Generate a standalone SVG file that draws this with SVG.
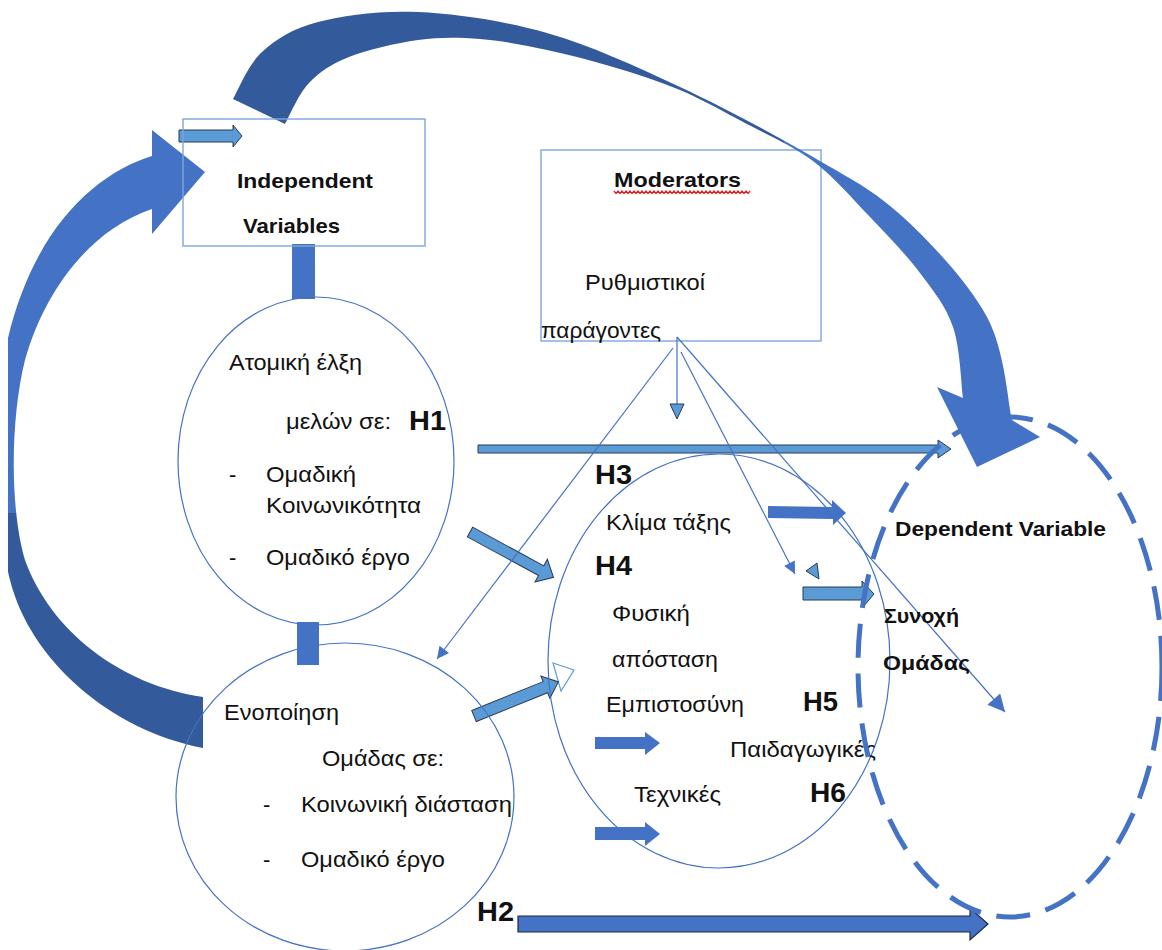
<svg xmlns="http://www.w3.org/2000/svg" width="1162" height="950" viewBox="0 0 1162 950">
<style>
.t{font-family:"Liberation Sans",Arial,sans-serif;font-size:22px;fill:#111}
.b{font-family:"Liberation Sans",Arial,sans-serif;font-size:21px;font-weight:bold;fill:#111}
.h{font-family:"Liberation Sans",Arial,sans-serif;font-size:28px;font-weight:bold;fill:#111}
.ell{fill:none;stroke:#4472c4;stroke-width:1.2}
.box{fill:none;stroke:#7fa6dc;stroke-width:1.4}
.thin{fill:none;stroke:#4472c4;stroke-width:1.2}
.blk{fill:#4472c4}
.lt{fill:#5b9bd5;stroke:#2b3a55;stroke-width:1}
.dk{fill:#4472c4;stroke:#1e2b45;stroke-width:1.2}
</style>
<defs>
<linearGradient id="gTop" gradientUnits="userSpaceOnUse" x1="0" y1="0" x2="1162" y2="0">
<stop offset="0.675" stop-color="#335a9a"/><stop offset="0.675" stop-color="#4472c4"/>
</linearGradient>
<linearGradient id="gLeft" gradientUnits="userSpaceOnUse" x1="0" y1="0" x2="0" y2="950">
<stop offset="0.54" stop-color="#4472c4"/><stop offset="0.54" stop-color="#335a9a"/>
</linearGradient>
<clipPath id="clipL"><rect x="8" y="0" width="1154" height="950"/></clipPath>
<marker id="ah" viewBox="0 0 10 10" refX="10" refY="5" markerWidth="14" markerHeight="12" markerUnits="userSpaceOnUse" orient="auto">
<path d="M0,0 L10,5 L0,10 Z" fill="#4472c4"/>
</marker>
<marker id="ahL" viewBox="0 0 10 10" refX="10" refY="5" markerWidth="21" markerHeight="17" markerUnits="userSpaceOnUse" orient="auto">
<path d="M0,0 L10,5 L0,10 Z" fill="#4472c4"/>
</marker>
</defs>
<rect width="1162" height="950" fill="#ffffff"/>

<g id="node-moderators">
<rect class="box" x="541" y="150" width="280" height="191"/>
<text class="b" x="614" y="187" textLength="127" lengthAdjust="spacingAndGlyphs">Moderators</text>
<path d="M614,191 l2,2.5 l2,-2.5 l2,2.5 l2,-2.5 l2,2.5 l2,-2.5 l2,2.5 l2,-2.5 l2,2.5 l2,-2.5 l2,2.5 l2,-2.5 l2,2.5 l2,-2.5 l2,2.5 l2,-2.5 l2,2.5 l2,-2.5 l2,2.5 l2,-2.5 l2,2.5 l2,-2.5 l2,2.5 l2,-2.5 l2,2.5 l2,-2.5 l2,2.5 l2,-2.5 l2,2.5 l2,-2.5 l2,2.5 l2,-2.5 l2,2.5 l2,-2.5 l2,2.5 l2,-2.5 l2,2.5 l2,-2.5 l2,2.5 l2,-2.5 l2,2.5 l2,-2.5 l2,2.5 l2,-2.5 l2,2.5 l2,-2.5 l2,2.5 l2,-2.5 l2,2.5 l2,-2.5 l2,2.5 l2,-2.5 l2,2.5 l2,-2.5 l2,2.5 l2,-2.5 l2,2.5 l2,-2.5 l2,2.5 l2,-2.5 l2,2.5 l2,-2.5 l2,2.5 l2,-2.5 l2,2.5 l2,-2.5 l2,2.5 l2,-2.5" fill="none" stroke="#e02020" stroke-width="1.3"/>
<text class="t" x="585" y="290" textLength="120" lengthAdjust="spacingAndGlyphs">Ρυθμιστικοί</text>
<text class="t" x="541" y="338" textLength="120" lengthAdjust="spacingAndGlyphs">παράγοντες</text>
</g>

<g id="connectors">
<!-- left big curved arrow -->
<path clip-path="url(#clipL)" fill="url(#gLeft)" d="M205,172 L152,130 L152,156 C90,175 20,240 0,380 C-10,450 -5,520 10,580 C30,660 110,730 203,748 L203,697 C120,685 50,630 25,560 C10,510 10,420 25,360 C45,290 90,230 152,209 L152,234 Z"/>
<!-- top big curved arrow -->
<path fill="url(#gTop)" d="M233,99 C237.8,91.2 247.8,64.8 262,52 C276.2,39.2 292,28.7 318,22 C344,15.3 379.8,10.2 418,12 C456.2,13.8 503.3,20.5 547,33 C590.7,45.5 635.7,66.3 680,87 C724.3,107.7 775.8,135.3 813,157 C850.2,178.7 874,190.3 903,217 C932,243.7 968.8,283.2 987,317 C1005.2,350.8 1007.8,402.8 1012,420 L1040,437 L977,467 L937,387 L963,398 C961.3,386.2 960.2,347.8 953,327 C945.8,306.2 933.8,291.3 920,273 C906.2,254.7 887.8,235.5 870,217 C852.2,198.5 833.8,176.7 813,161 C792.2,145.3 767.2,134.8 745,123 C722.8,111.2 702,99.3 680,90 C658,80.7 635.2,73.7 613,67 C590.8,60.3 569.2,54.7 547,50 C524.8,45.3 501.5,40.7 480,39 C458.5,37.3 439.8,37 418,40 C396.2,43 367.2,49.8 349,57 C330.8,64.2 319.7,71.8 309,83 C298.3,94.2 289,117.2 285,124 Z"/>
<!-- box-to-ellipse bars -->
<rect class="blk" x="292" y="244" width="23" height="55"/>
<rect class="blk" x="297" y="622" width="22" height="43"/>
<!-- small arrow at top of Independent box -->
<path class="lt" d="M179,130 L233,130 L233,125 L242,136 L233,147 L233,142 L179,142 Z"/>
<!-- H3 arrow -->
<path class="lt" d="M478,445 L938,445 L938,440 L951,449 L938,458 L938,453 L478,453 Z"/>
<!-- ellipse1 to mediators -->
<path class="lt" transform="translate(470,532) rotate(28.5)" d="M0,-5.5 L81,-5.5 L81,-13 L95,0 L81,13 L81,5.5 L0,5.5 Z"/>
<!-- ellipse2 to mediators -->
<path d="M553,663 L574,670 L561,691 Z" fill="#ffffff" stroke="#5b9bd5" stroke-width="1.2"/>
<path class="lt" transform="translate(474,716) rotate(-22)" d="M0,-6 L77,-6 L77,-12 L91,0 L77,12 L77,6 L0,6 Z"/>
<!-- mediator arrows -->
<path class="blk" d="M768,506 L832,507 L832,500 L846,513 L833,525 L833,519 L768,518 Z"/>
<path class="lt" d="M803,587 L862,587 L862,581 L874,594 L863,607 L863,600 L803,600 Z"/>
<path class="lt" d="M806,571 L817,563 L819,579 Z"/>
<path class="blk" d="M595,737 L645,737 L645,732 L660,743 L645,755 L645,749 L595,749 Z"/>
<path class="blk" d="M595,827 L645,827 L645,822 L660,834 L645,846 L645,840 L595,840 Z"/>
<!-- H2 arrow -->
<path class="dk" d="M518,916 L970,916 L970,908 L988,924 L970,940 L970,932 L518,932 Z"/>
<!-- moderator lines -->
<path class="thin" d="M673,348 L437,659" marker-end="url(#ah)"/>
<path class="thin" d="M681,352 L795,574" marker-end="url(#ah)"/>
<path class="thin" d="M677,337 L1005,712" marker-end="url(#ahL)"/>
<path class="thin" d="M677,337 L677,404"/>
<path class="lt" d="M670,404 L684,404 L677,419 Z"/>
</g>

<g id="node-independent">
<rect class="box" x="183" y="119" width="242" height="127"/>
<text class="b" x="237" y="188" textLength="136" lengthAdjust="spacingAndGlyphs">Independent</text>
<text class="b" x="243" y="233" textLength="97" lengthAdjust="spacingAndGlyphs">Variables</text>
</g>

<g id="node-attraction">
<ellipse class="ell" cx="316" cy="461" rx="138" ry="164"/>
<text class="t" x="229" y="370" textLength="133" lengthAdjust="spacingAndGlyphs">Ατομική έλξη</text>
<text class="t" x="286" y="429" textLength="105" lengthAdjust="spacingAndGlyphs">μελών σε:</text>
<text class="h" x="409" y="430" textLength="37" lengthAdjust="spacingAndGlyphs">H1</text>
<text class="t" x="229" y="482">-</text>
<text class="t" x="266" y="482" textLength="90" lengthAdjust="spacingAndGlyphs">Ομαδική</text>
<text class="t" x="266" y="513" textLength="155" lengthAdjust="spacingAndGlyphs">Κοινωνικότητα</text>
<text class="t" x="229" y="565">-</text>
<text class="t" x="266" y="565" textLength="144" lengthAdjust="spacingAndGlyphs">Ομαδικό έργο</text>
</g>

<g id="node-integration">
<ellipse class="ell" cx="345" cy="797" rx="169" ry="154"/>
<text class="t" x="224" y="720" textLength="115" lengthAdjust="spacingAndGlyphs">Ενοποίηση</text>
<text class="t" x="322" y="766" textLength="122" lengthAdjust="spacingAndGlyphs">Ομάδας σε:</text>
<text class="t" x="263" y="812">-</text>
<text class="t" x="301" y="812" textLength="211" lengthAdjust="spacingAndGlyphs">Κοινωνική διάσταση</text>
<text class="t" x="263" y="867">-</text>
<text class="t" x="301" y="867" textLength="144" lengthAdjust="spacingAndGlyphs">Ομαδικό έργο</text>
<text class="h" x="477" y="921" textLength="37" lengthAdjust="spacingAndGlyphs">H2</text>
</g>

<g id="node-mediators">
<ellipse class="ell" cx="719" cy="661" rx="171" ry="207"/>
<text class="h" x="595" y="484" textLength="37" lengthAdjust="spacingAndGlyphs">H3</text>
<text class="t" x="606" y="530" textLength="125" lengthAdjust="spacingAndGlyphs">Κλίμα τάξης</text>
<text class="h" x="595" y="575" textLength="37" lengthAdjust="spacingAndGlyphs">H4</text>
<text class="t" x="612" y="621" textLength="78" lengthAdjust="spacingAndGlyphs">Φυσική</text>
<text class="t" x="612" y="667" textLength="106" lengthAdjust="spacingAndGlyphs">απόσταση</text>
<text class="t" x="606" y="712" textLength="138" lengthAdjust="spacingAndGlyphs">Εμπιστοσύνη</text>
<text class="h" x="803" y="711" textLength="35" lengthAdjust="spacingAndGlyphs">H5</text>
<text class="t" x="730" y="757" textLength="146" lengthAdjust="spacingAndGlyphs">Παιδαγωγικές</text>
<text class="t" x="634" y="802" textLength="87" lengthAdjust="spacingAndGlyphs">Τεχνικές</text>
<text class="h" x="810" y="802" textLength="36" lengthAdjust="spacingAndGlyphs">H6</text>
</g>

<g id="node-dependent">
<ellipse cx="1010" cy="667" rx="152" ry="250" fill="none" stroke="#4472c4" stroke-width="5" stroke-dasharray="34 16"/>
<text class="b" x="895" y="536" textLength="211" lengthAdjust="spacingAndGlyphs">Dependent Variable</text>
<text class="b" x="884" y="623" textLength="75" lengthAdjust="spacingAndGlyphs">Συνοχή</text>
<text class="b" x="883" y="670" textLength="87" lengthAdjust="spacingAndGlyphs">Ομάδας</text>
</g>
</svg>
